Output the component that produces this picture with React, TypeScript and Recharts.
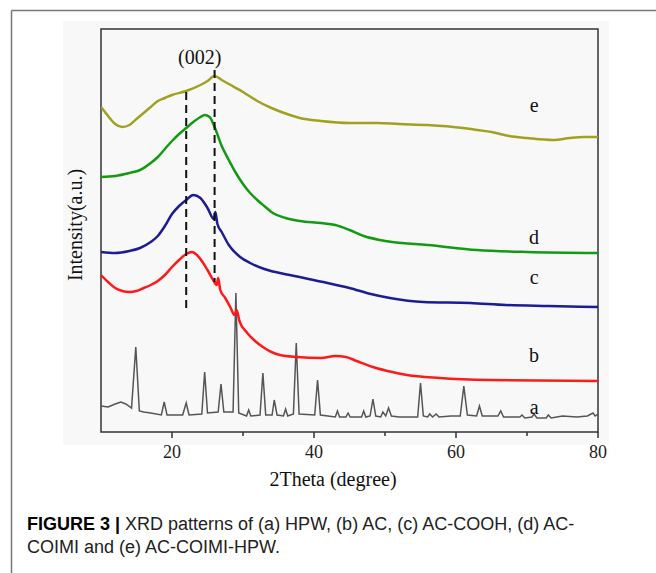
import React from 'react';
import { LineChart, Line, XAxis, YAxis, ReferenceLine, ReferenceArea, ReferenceDot } from 'recharts';

// 2Theta (degree), Intensity (a.u.)
const curveA: [number, number][] = [
  [10, 26], [11, 25], [12, 28], [12.8, 30], [13.5, 28], [14.3, 24], [14.9, 85], [15.4, 21], [16, 20], [17, 19],
  [18.5, 17], [18.9, 30], [19.3, 17], [21.5, 17], [22, 29], [22.4, 17], [24.2, 18], [24.6, 60], [25, 19],
  [26.5, 20], [26.9, 48], [27.3, 20], [28.6, 20], [29, 139], [29.4, 19], [30.5, 16], [30.8, 22], [31.1, 16],
  [32.4, 17], [32.8, 59], [33.2, 17], [34.1, 17], [34.4, 32], [34.8, 17], [35.7, 16], [36, 23], [36.3, 16],
  [37.1, 18], [37.5, 89], [37.9, 18], [40.1, 17], [40.5, 52], [40.9, 17], [43, 15], [43.3, 21], [43.6, 15],
  [44.5, 15], [44.8, 19], [45.1, 15], [46.7, 15], [47, 21], [47.3, 15], [47.9, 16], [48.3, 33], [48.7, 16],
  [49.4, 15], [49.7, 20], [50.1, 16], [50.5, 24], [50.9, 16], [52, 15], [54.6, 15], [55, 49], [55.4, 16],
  [56, 15], [56.3, 18], [56.7, 15], [57.2, 18], [57.6, 15], [59.3, 16], [60.6, 16], [61.1, 46], [61.6, 17],
  [62.9, 16], [63.3, 26], [63.7, 16], [65.9, 16], [66.3, 21], [66.7, 15], [69, 15], [69.3, 17], [69.7, 14],
  [70.7, 15], [71, 18], [71.4, 14], [72.7, 14], [73, 17], [73.4, 14], [75, 16], [77, 15], [78.5, 16],
  [79.3, 19], [79.6, 16], [80, 18],
];

const curveB: [number, number][] = [
  [10, 157], [11, 150], [12, 144], [13, 141], [14, 140], [15, 141], [16, 144], [17, 147], [18, 151], [19, 157],
  [20, 165], [21, 172], [22, 178], [22.8, 180], [23.5, 177], [24.3, 170], [25, 162], [25.8, 152], [26.3, 147],
  [26.5, 154], [26.8, 142], [27.5, 134], [28.2, 125], [28.8, 117], [29.1, 122], [29.5, 111], [30.6, 99],
  [31.7, 91], [32.8, 85], [34, 80], [35.2, 77], [37.6, 75], [41, 74], [43, 76], [44.5, 75], [46, 71],
  [48.3, 65], [51, 60], [53.1, 57], [57.7, 54], [64.8, 52], [80, 51],
];

const curveC: [number, number][] = [
  [10, 180], [12, 179], [14, 181], [15.5, 184], [17, 190], [18, 196], [19, 206], [20, 218], [21, 226], [22, 232],
  [23, 237], [24, 234], [25, 224], [25.9, 213], [26.1, 220], [26.4, 208], [27, 200], [28, 187], [29.6, 175],
  [31, 169], [33, 163], [36.6, 157], [41.3, 150], [45, 144], [48, 138], [50.7, 134], [55.4, 130], [62, 129],
  [67, 127], [73, 126], [80, 125],
];

const curveD: [number, number][] = [
  [10, 255], [12, 256], [14, 259], [15.5, 262], [17, 269], [18, 275], [19, 283], [20, 291], [21, 298], [22, 304],
  [23, 310], [24, 315], [24.6, 317], [25.3, 315], [26, 305], [27, 286], [28, 272], [29, 259], [30, 248],
  [31, 239], [32, 232], [33, 226], [34.2, 219], [36, 214], [38, 211], [41, 209], [43, 207], [45, 202],
  [47, 196], [49.3, 192], [51, 190], [56, 187], [63, 182], [70, 180], [80, 179],
];

const curveE: [number, number][] = [
  [10, 325], [11, 316], [12, 308], [13, 305], [14, 307], [15, 313], [16, 319], [17, 325], [18, 331], [19, 334],
  [20, 337], [22, 341], [24, 347], [25, 351], [26, 356], [27, 352], [28, 348], [30, 340], [32, 331], [34, 324],
  [36.6, 317], [38, 314], [41, 311], [45, 309], [49, 309], [52, 308], [56, 307], [61, 304], [63, 302],
  [65, 300], [67.5, 296], [70, 294], [73.7, 292], [76, 294], [78, 295], [80, 295],
];

const allTicks = [20, 30, 40, 50, 60, 70, 80];
const majorTicks = [20, 40, 60, 80];

// dashed (002) guide lines: [2Theta, top intensity, bottom intensity]
const guide1: [number, number, number] = [22, 340, 122];
const guide2: [number, number, number] = [26, 362, 150];

// curve labels: [text, 2Theta, intensity]
const curveLabels: [string, number, number][] = [
  ['e', 71, 327], ['d', 71, 195], ['c', 71, 155], ['b', 71, 77], ['a', 71, 25],
];
const peakLabel: [string, number, number] = ['(002)', 23.9, 375];

const toData = (arr: [number, number][]) => arr.map(([x, y]) => ({ x, y }));

const serif = 'Liberation Serif, Times New Roman, serif';

const renderTick = (props: any) => {
  const { x, y, payload } = props;
  const v = payload.value;
  const major = majorTicks.includes(v);
  return (
    <g>
      <line x1={x} x2={x} y1={y} y2={y + (major ? 6 : 4)} stroke="#333" strokeWidth={1.5} />
      {major && (
        <text x={x} y={y + 26} textAnchor="middle" fontFamily={serif} fontSize={18} fill="#222">{v}</text>
      )}
    </g>
  );
};

export default function App() {
  const labelStyle = { fontFamily: serif, fontSize: 20, fill: '#111' };
  return (
    <div style={{ position: 'absolute', left: 0, top: 0, width: 656, height: 573, background: '#fff', overflow: 'hidden' }}>
      <svg width={656} height={573} style={{ position: 'absolute', left: 0, top: 0 }}>
        <rect x={63} y={21} width={546} height={424} fill="#f8f8f8" />
        <line x1={11.5} y1={10.5} x2={656} y2={10.5} stroke="#777" strokeWidth={1.5} />
        <line x1={11.5} y1={10.5} x2={11.5} y2={573} stroke="#777" strokeWidth={1.5} />
      </svg>
      <div style={{ position: 'absolute', left: 0, top: 0 }}>
        <LineChart width={656} height={573} margin={{ top: 29, left: 101, right: 58, bottom: 111 }}>
          <XAxis
            type="number"
            dataKey="x"
            domain={[10, 80]}
            ticks={allTicks}
            interval={0}
            height={30}
            axisLine={false}
            tickLine={false}
            tickSize={0}
            tickMargin={0}
            tick={renderTick}
            allowDataOverflow
          />
          <YAxis type="number" domain={[0, 403]} hide width={0} allowDataOverflow />
          <ReferenceArea x1={10} x2={80} y1={0} y2={403} fill="none" stroke="#333" strokeWidth={1.5} />
          <Line data={toData(curveA)} dataKey="y" type="linear" stroke="#555" strokeWidth={1.5} dot={false} isAnimationActive={false} />
          <Line data={toData(curveB)} dataKey="y" type="monotone" stroke="#ff1a1a" strokeWidth={2.5} dot={false} isAnimationActive={false} />
          <Line data={toData(curveC)} dataKey="y" type="monotone" stroke="#1c1c94" strokeWidth={2.5} dot={false} isAnimationActive={false} />
          <Line data={toData(curveD)} dataKey="y" type="monotone" stroke="#139a13" strokeWidth={2.5} dot={false} isAnimationActive={false} />
          <Line data={toData(curveE)} dataKey="y" type="monotone" stroke="#a0a021" strokeWidth={2.5} dot={false} isAnimationActive={false} />
          {[guide1, guide2].map(([gx, top, bottom], i) => (
            <ReferenceLine
              key={'g' + i}
              segment={[{ x: gx, y: top }, { x: gx, y: bottom }]}
              stroke="#111"
              strokeWidth={2}
              strokeDasharray="8 5"
            />
          ))}
          {curveLabels.map(([t, lx, ly]) => (
            <ReferenceDot key={t} x={lx} y={ly} r={0} fill="none" stroke="none"
              label={{ value: t, position: 'center', ...labelStyle }} />
          ))}
          <ReferenceDot x={peakLabel[1]} y={peakLabel[2]} r={0} fill="none" stroke="none"
            label={{ value: peakLabel[0], position: 'center', ...labelStyle }} />
        </LineChart>
      </div>
      <svg width={656} height={573} style={{ position: 'absolute', left: 0, top: 0, pointerEvents: 'none' }}>
        <text x={333} y={486} textAnchor="middle" fontFamily={serif} fontSize={20} fill="#111">2Theta (degree)</text>
        <text x={82} y={225} textAnchor="middle" fontFamily={serif} fontSize={20} fill="#111" transform="rotate(-90, 82, 225)">Intensity(a.u.)</text>
      </svg>
      <div style={{ position: 'absolute', left: 27, top: 513, fontFamily: 'Liberation Sans, Arial, sans-serif', fontSize: 18, lineHeight: '23px', color: '#222', whiteSpace: 'nowrap' }}>
        <b style={{ color: '#000' }}>FIGURE 3 |</b> XRD patterns of (a) HPW, (b) AC, (c) AC-COOH, (d) AC-<br />
        COIMI and (e) AC-COIMI-HPW.
      </div>
    </div>
  );
}
